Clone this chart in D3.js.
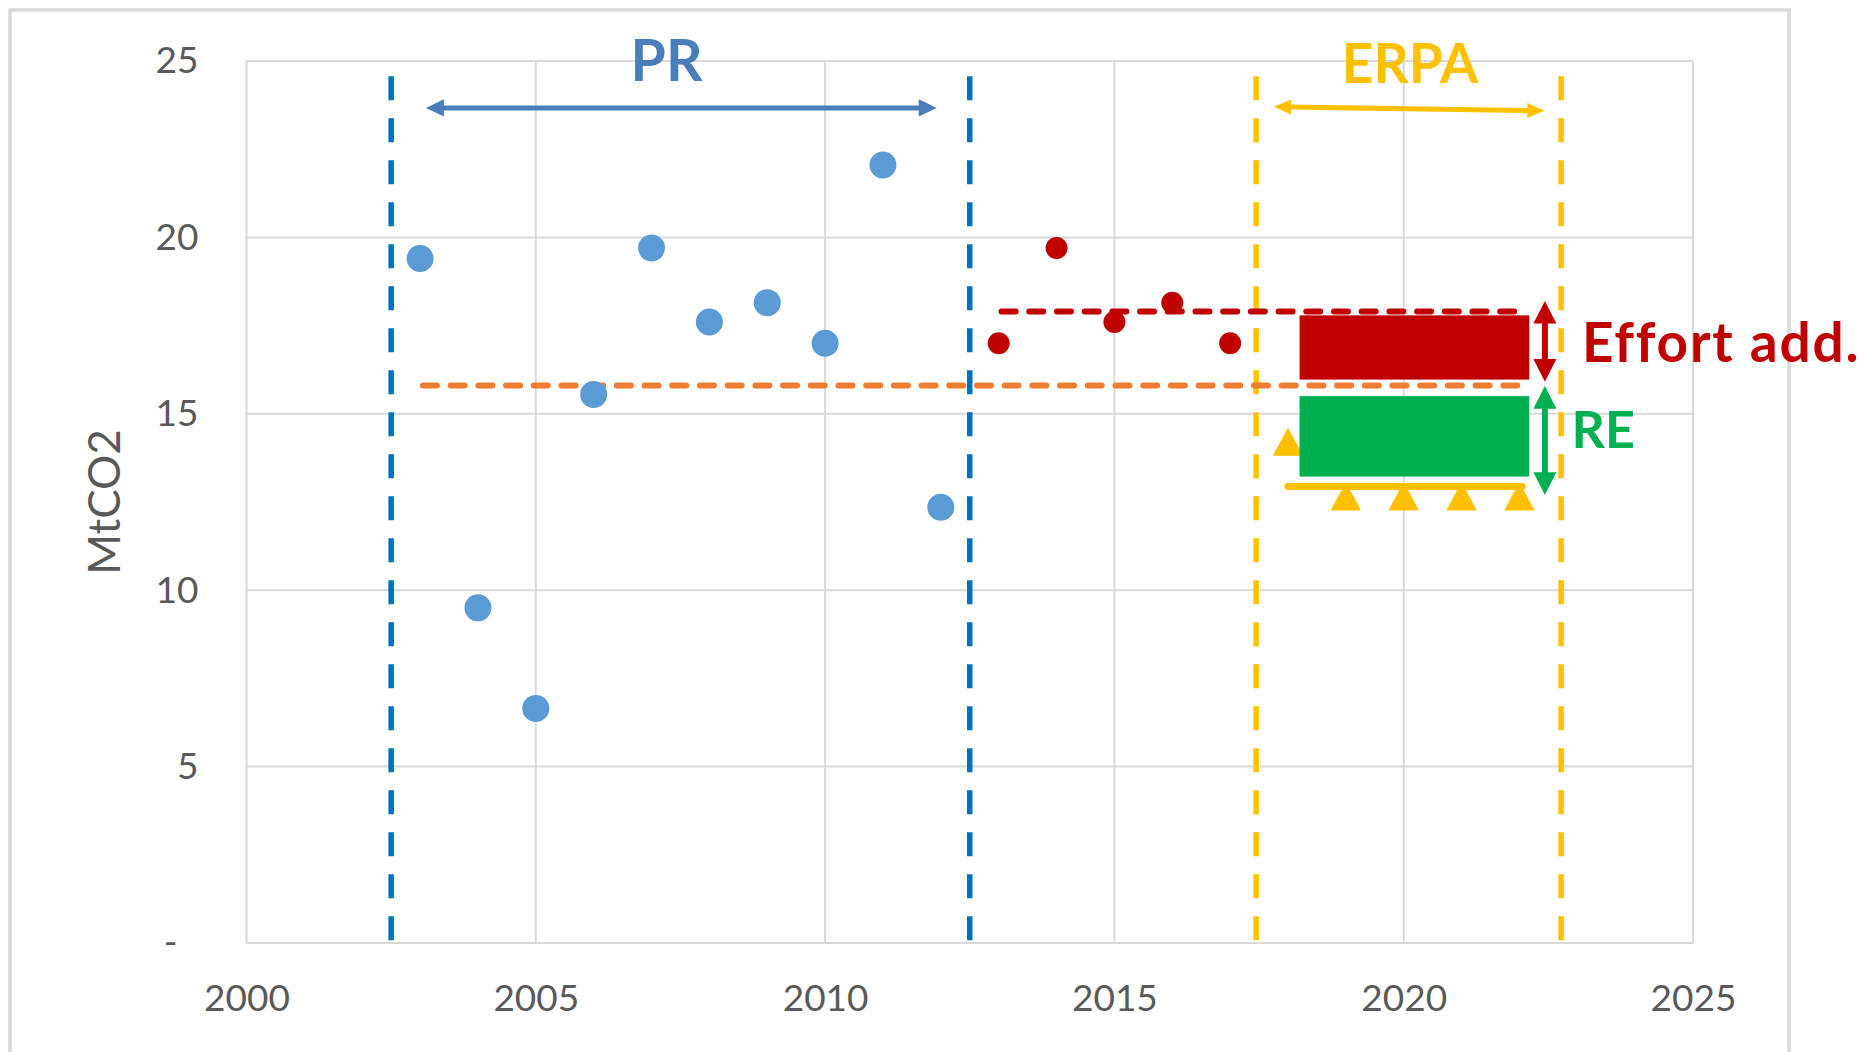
<!DOCTYPE html>
<html>
  <head>
    <meta charset="utf-8"/>
    <title>MtCO2 - PR / ERPA</title>
    <style>
      body { margin: 0; background: #fff; }
      text { font-family: Lato, "Open Sans", sans-serif; }
      .grid line { stroke: #d9d9d9; stroke-width: 2px; }
      .tick text { fill: #595959; font-size: 37px; }
    </style>
    <script src="https://d3js.org/d3.v7.min.js"></script>
  </head>
  <body>
    <svg id="chart" width="1864" height="1052"></svg>
    <script>
      // values
      var prYears = [2003, 2004, 2005, 2006, 2007, 2008, 2009, 2010, 2011, 2012];
      var prValues = [19.4, 9.5, 6.65, 15.55, 19.7, 17.6, 18.15, 17.0, 22.05, 12.35];

      var recentYears = [2013, 2014, 2015, 2016, 2017];
      var recentValues = [17.0, 19.7, 17.6, 18.15, 17.0];

      var erpaYears = [2018, 2019, 2020, 2021, 2022];
      var erpaValues = [14.2, 12.65, 12.65, 12.65, 12.65];

      var prLevel = 15.8;      // orange dashed
      var recentLevel = 17.9;  // red dashed
      var erpaLevel = 12.94;   // yellow line

      var barSpan = [2018.2, 2022.17];
      var effortBar = [15.97, 17.79];
      var reBar = [13.22, 15.5];

      var periodLines = [2002.5, 2012.5, 2017.45, 2022.72];
      var periodColors = ["#0070c0", "#0070c0", "#ffc000", "#ffc000"];

      var xTicks = [2000, 2005, 2010, 2015, 2020, 2025];
      var yTicks = [0, 5, 10, 15, 20, 25];

      var svg = d3.select("#chart");

      var x = d3.scaleLinear().domain([2000, 2025]).range([246.5, 1693]);
      var y = d3.scaleLinear().domain([0, 25]).range([943, 61]);

      // outer chart border (bottom edge runs off the picture)
      svg.append("rect")
        .attr("x", 10).attr("y", 10)
        .attr("width", 1779).attr("height", 1100)
        .attr("fill", "none")
        .attr("stroke", "#d9d9d9")
        .attr("stroke-width", 3.5);

      // grid
      var grid = svg.append("g").attr("class", "grid");
      grid.selectAll(".h").data(yTicks).enter().append("line")
        .attr("x1", x(2000)).attr("x2", x(2025))
        .attr("y1", function(d) { return y(d); })
        .attr("y2", function(d) { return y(d); });
      grid.selectAll(".v").data(xTicks).enter().append("line")
        .attr("y1", y(0)).attr("y2", y(25))
        .attr("x1", function(d) { return x(d); })
        .attr("x2", function(d) { return x(d); });

      // axes (labels only)
      var yAxis = svg.append("g")
        .attr("transform", "translate(" + x(2000) + ",0)")
        .call(d3.axisLeft(y).tickValues(yTicks).tickSize(0).tickPadding(48)
          .tickFormat(function(d) { return d === 0 ? "-" : d; }));
      yAxis.select(".domain").remove();
      yAxis.selectAll(".tick text").filter(function(d) { return d === 0; })
        .attr("dx", -21);

      var xAxis = svg.append("g")
        .attr("transform", "translate(0," + y(0) + ")")
        .call(d3.axisBottom(x).tickValues(xTicks).tickSize(0).tickPadding(42)
          .tickFormat(d3.format("d")));
      xAxis.select(".domain").remove();

      svg.append("text")
        .attr("transform", "translate(120," + y(12.5) + ") rotate(-90)")
        .attr("text-anchor", "middle")
        .attr("fill", "#595959")
        .attr("font-size", 44)
        .text("MtCO2");

      // vertical period lines
      svg.selectAll(".period").data(periodLines).enter().append("line")
        .attr("class", "period")
        .attr("x1", function(d) { return x(d); })
        .attr("x2", function(d) { return x(d); })
        .attr("y1", y(24.57)).attr("y2", y(0.08))
        .attr("stroke", function(d, i) { return periodColors[i]; })
        .attr("stroke-width", 5.5)
        .attr("stroke-dasharray", "24 18");

      // reference levels
      function levelLine(from, to, v, color) {
        svg.append("line")
          .attr("x1", x(from)).attr("x2", x(to))
          .attr("y1", y(v)).attr("y2", y(v))
          .attr("stroke", color)
          .attr("stroke-width", 6)
          .attr("stroke-linecap", "round")
          .attr("stroke-dasharray", "14 13.7");
      }
      levelLine(2003.05, 2022, prLevel, "#ed7d31");
      levelLine(2013.05, 2022, recentLevel, "#c00000");

      // triangles (behind the bars)
      var tri = "M0,-13L14,13L-14,13Z";
      svg.selectAll(".tri").data(erpaYears).enter().append("path")
        .attr("class", "tri")
        .attr("d", tri)
        .attr("fill", "#ffc000")
        .attr("stroke", "#ffc000")
        .attr("stroke-width", 1.5)
        .attr("stroke-linejoin", "round")
        .attr("transform", function(d, i) {
          return "translate(" + x(d) + "," + y(erpaValues[i]) + ")";
        });

      svg.append("line")
        .attr("x1", x(2018)).attr("x2", x(2022.05))
        .attr("y1", y(erpaLevel)).attr("y2", y(erpaLevel))
        .attr("stroke", "#ffc000")
        .attr("stroke-width", 7)
        .attr("stroke-linecap", "round");

      // bars
      svg.append("rect")
        .attr("x", x(barSpan[0])).attr("width", x(barSpan[1]) - x(barSpan[0]))
        .attr("y", y(effortBar[1])).attr("height", y(effortBar[0]) - y(effortBar[1]))
        .attr("fill", "#c00000");
      svg.append("rect")
        .attr("x", x(barSpan[0])).attr("width", x(barSpan[1]) - x(barSpan[0]))
        .attr("y", y(reBar[1])).attr("height", y(reBar[0]) - y(reBar[1]))
        .attr("fill", "#00b050");

      // dots
      svg.selectAll(".pr").data(prYears).enter().append("circle")
        .attr("class", "pr")
        .attr("cx", function(d) { return x(d); })
        .attr("cy", function(d, i) { return y(prValues[i]); })
        .attr("r", 13.5)
        .attr("fill", "#5b9bd5");

      svg.selectAll(".recent").data(recentYears).enter().append("circle")
        .attr("class", "recent")
        .attr("cx", function(d) { return x(d); })
        .attr("cy", function(d, i) { return y(recentValues[i]); })
        .attr("r", 11)
        .attr("fill", "#c00000");

      // double arrows
      function doubleArrow(x1, y1, x2, y2, color, w, len, half) {
        var px1 = x(x1), py1 = y(y1), px2 = x(x2), py2 = y(y2);
        var dx = px2 - px1, dy = py2 - py1, d = Math.sqrt(dx * dx + dy * dy);
        var ux = dx / d, uy = dy / d, nx = -uy, ny = ux;
        svg.append("line")
          .attr("x1", px1 + ux * len * 0.8).attr("y1", py1 + uy * len * 0.8)
          .attr("x2", px2 - ux * len * 0.8).attr("y2", py2 - uy * len * 0.8)
          .attr("stroke", color).attr("stroke-width", w);
        [[px1, py1, 1], [px2, py2, -1]].forEach(function(p) {
          var bx = p[0] + p[2] * ux * len, by = p[1] + p[2] * uy * len;
          svg.append("path")
            .attr("d", "M" + p[0] + "," + p[1] +
              "L" + (bx + nx * half) + "," + (by + ny * half) +
              "L" + (bx - nx * half) + "," + (by - ny * half) + "Z")
            .attr("fill", color);
        });
      }
      doubleArrow(2003.1, 23.67, 2011.93, 23.67, "#4a7ebb", 5, 18, 8.7);
      doubleArrow(2017.76, 23.7, 2022.43, 23.59, "#ffc000", 5, 17, 7.5);
      doubleArrow(2022.44, 18.2, 2022.44, 15.91, "#c00000", 6, 22.7, 11.5);
      doubleArrow(2022.44, 15.79, 2022.44, 12.7, "#00b050", 6, 22.7, 11.5);

      // annotation labels
      var labels = [
        { text: "PR", x: 2007.26, y: 24.43, size: 57, color: "#4a7ebb", anchor: "middle", spacing: 0 },
        { text: "ERPA", x: 2020.11, y: 24.38, size: 55, color: "#ffc000", anchor: "middle", spacing: 0 },
        { text: "Effort add.", x: 2023.08, y: 16.47, size: 55, color: "#c00000", anchor: "start", spacing: 1.8 },
        { text: "RE", x: 2022.9, y: 14.03, size: 52, color: "#00b050", anchor: "start", spacing: 0 }
      ];
      svg.selectAll(".note").data(labels).enter().append("text")
        .attr("class", "note")
        .attr("x", function(d) { return x(d.x); })
        .attr("y", function(d) { return y(d.y); })
        .attr("text-anchor", function(d) { return d.anchor; })
        .attr("font-size", function(d) { return d.size; })
        .attr("letter-spacing", function(d) { return d.spacing; })
        .attr("font-weight", "bold")
        .attr("fill", function(d) { return d.color; })
        .text(function(d) { return d.text; });
    </script>
  </body>
</html>
